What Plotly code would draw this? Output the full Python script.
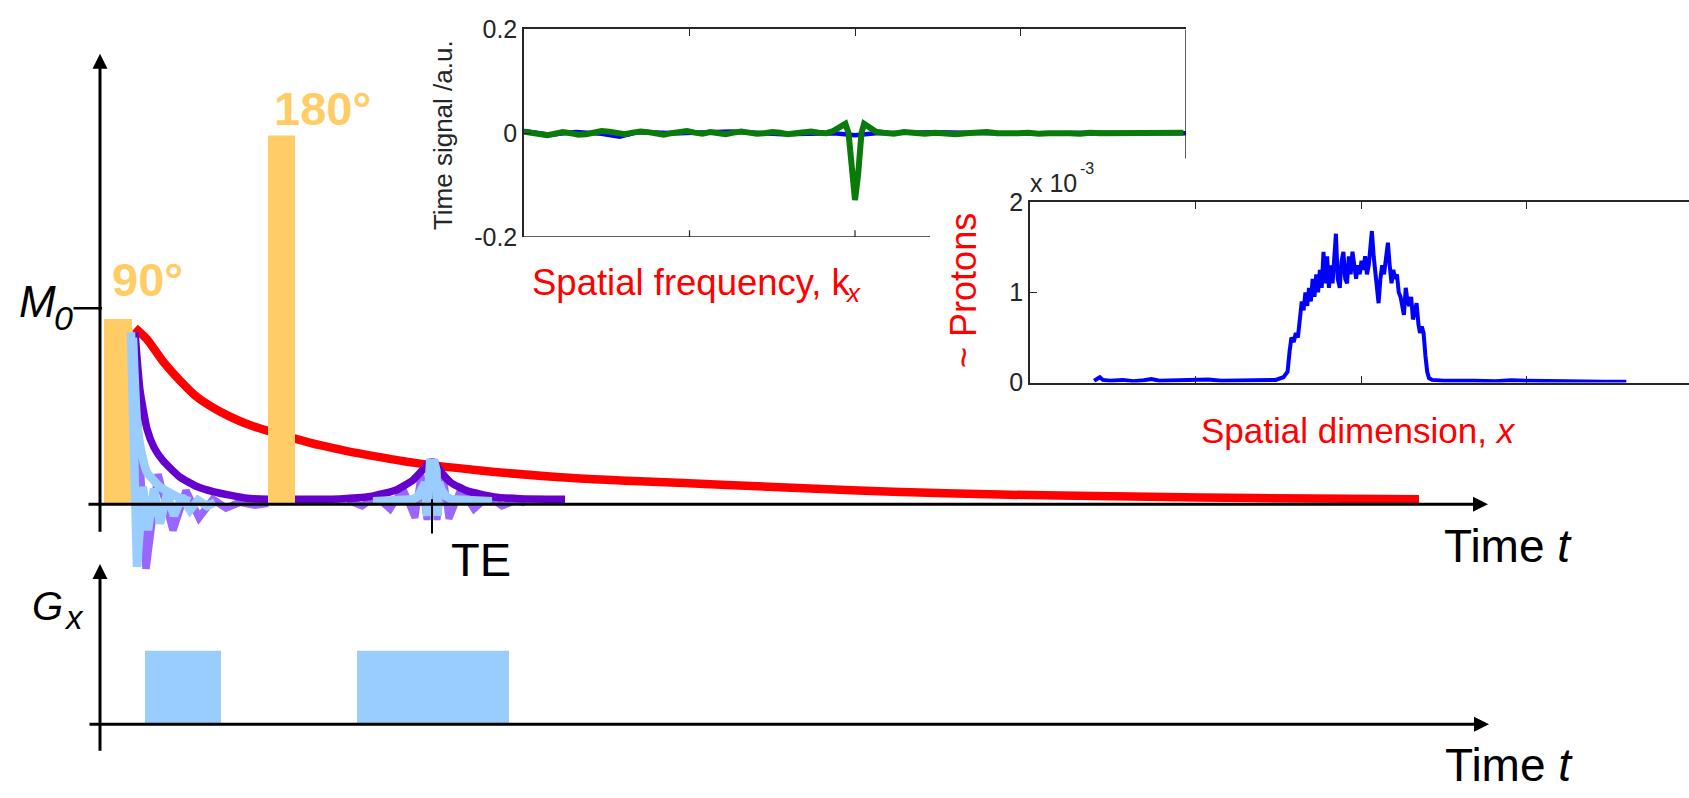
import plotly.graph_objects as go

W, H = 1689, 798
FONT = "Liberation Sans, Arial, Helvetica, sans-serif"
ORANGE = "#FFCC66"
RED = "#FF0000"
DPURPLE = "#6600CC"
LPURPLE = "#9966FF"
LBLUE = "#99CCFF"
DARK = "#262626"

# ---------------- main pulse-sequence panel (time a.u., signal in units of M0) -------------
t_axis_start, t_axis_end = -1.3, 138.8
m_axis_bottom, m_axis_top = -0.148, 2.30
M0 = 1.0
TE = 33.2

rf_labels = ["90°", "180°"]
rf_start = [0.4, 16.8]
rf_end = [3.2, 19.5]
rf_height = [0.946, 1.882]

# T2 decay (red)
t2_t = [3.5, 4.7, 6.3, 8.0, 9.7, 11.3, 13.0, 14.7, 16.8, 19.5, 22.0, 24.7, 28.0, 31.3, 38.0, 46.0, 54.0, 62.7, 71.0, 79.3, 90.0, 96.0, 110.0, 121.0, 131.9]
t2_m = [0.90, 0.842, 0.729, 0.631, 0.547, 0.493, 0.447, 0.409, 0.374, 0.335, 0.301, 0.271, 0.240, 0.212, 0.172, 0.138, 0.117, 0.0985, 0.080, 0.064, 0.049, 0.044, 0.034, 0.029, 0.025]

# T2* envelope: FID and spin echo (dark purple)
env_t = [3.5, 4.0, 4.7, 5.4, 6.3, 8.0, 9.7, 11.3, 14.7, 16.8, 19.5, 24.0, 27.0, 29.7, 31.3, 32.3, 32.9, 33.2, 33.5, 34.1, 35.1, 36.7, 39.4, 42.0, 46.5]
env_m = [0.877, 0.581, 0.384, 0.290, 0.222, 0.138, 0.090, 0.064, 0.030, 0.025, 0.025, 0.027, 0.039, 0.074, 0.123, 0.177, 0.212, 0.217, 0.212, 0.165, 0.110, 0.068, 0.037, 0.028, 0.025]

# oscillating signal 1 (light purple)
lp_fid_t = [3.3, 4.0, 4.6, 5.8, 7.3, 8.6, 9.9, 11.3, 12.6, 14.0, 15.5, 16.8]
lp_fid_m = [0.86, 0.19, -0.330, 0.153, -0.133, 0.069, -0.069, 0.025, -0.020, 0.010, -0.005, 0.005]
lp_echo_t = [24.8, 26.2, 27.6, 29.0, 30.3, 31.5, 32.1, 32.7, 33.2, 33.7, 34.3, 34.9, 36.1, 37.4, 38.8, 40.2, 41.6, 42.5]
lp_echo_m = [0.02, -0.010, 0.04, -0.025, 0.08, -0.069, 0.15, -0.08, 0.21, -0.08, 0.15, -0.074, 0.08, -0.025, 0.04, -0.010, 0.02, 0.005]

# oscillating signal 2 (light blue)
lb_fid_t = [3.1, 3.7, 4.3, 4.8, 5.4, 6.0, 6.7, 7.4, 8.2, 9.0, 9.8, 10.7, 11.5]
lb_fid_m = [0.877, -0.320, 0.089, -0.133, 0.079, -0.099, 0.054, -0.059, 0.039, -0.030, 0.020, -0.010, 0.010]
lb_env_t = [3.3, 3.7, 4.2, 4.7, 6.0, 7.7, 9.0]
lb_env_m = [0.85, 0.419, 0.251, 0.163, 0.089, 0.039, 0.015]
lb_echo_t = [27.3, 31.3, 31.8, 32.2, 32.5, 32.7, 32.8, 33.0, 33.45, 33.65, 33.75, 33.9, 34.2, 34.6, 35.15, 39.2]
lb_echo_m = [0.015, 0.025, 0.04, 0.07, 0.11, -0.06, 0.17, 0.212, 0.212, 0.17, -0.06, 0.11, 0.07, 0.04, 0.025, 0.015]

# ---------------- readout gradient panel ----------------
gx_axis_bottom, gx_axis_top = -0.382, 2.184
gx_start = [4.5, 25.7]
gx_end = [12.1, 40.9]
gx_height = [1.0, 1.0]

# ---------------- inset 1: time signal vs spatial frequency ----------------
k_ticks = [64, 128, 192]
sig_ticks = [-0.2, 0, 0.2]
sig_ticktext = ["-0.2", "0", "0.2"]
k_green = (list(range(0, 118, 3))
           + [119.5, 121, 123, 124.3, 125.5, 126.8, 128, 129.2, 130.5, 131.5, 132.8, 134.5, 136]
           + list(range(139, 256, 4)))
sig_green = ([0.003, 0.001, -0.002, -0.004, -0.001, 0.002, 0.000, -0.003, -0.002, 0.001,
              0.004, 0.003, 0.000, -0.002, 0.001, 0.003, 0.002, -0.001, -0.003, 0.000,
              0.002, 0.004, 0.001, -0.001, 0.002, 0.000, -0.002, 0.001, 0.003, 0.001,
              -0.001, 0.000, 0.002, 0.001, -0.002, 0.000, 0.001, 0.003, 0.001, 0.000]
             + [0.004, 0.008, 0.014, 0.018, 0.000, -0.080, -0.129, -0.080, 0.000, 0.018, 0.014, 0.006, 0.003]
             + [0.001, -0.001, 0.002, 0.000, -0.001, 0.001, 0.000, -0.002, 0.000, 0.001,
                0.002, 0.000, -0.001, 0.000, 0.001, -0.001, 0.000, 0.001, 0.000, -0.001,
                0.001, 0.000, 0.000, 0.001, -0.001, 0.000, 0.001, 0.000, 0.000, 0.001])
k_blue = [0, 10, 20, 30, 37, 44, 60, 80, 100, 120, 128, 136, 160, 190, 220, 256]
sig_blue = [0.004, -0.003, 0.002, -0.001, -0.007, 0.002, 0.000, 0.003, -0.002, 0.000, -0.004, 0.000, 0.002, -0.001, 0.001, 0.000]

# ---------------- inset 2: proton density vs spatial dimension (x 1e-3) ----------------
p_ticks = [0, 1, 2]
x_prof = [24.8, 26.0, 27.0, 28.2, 31, 36, 40, 44, 47, 50, 56, 62, 69, 74, 80, 86, 91, 95,
          98.0, 99.6, 100.4, 101.1, 102.0, 102.8, 103.6, 104.4, 105.1, 105.8, 106.5, 107.2, 107.9,
          108.6, 109.3, 110.0, 110.7, 111.4, 112.1, 112.8, 113.5, 114.2, 114.9, 115.6, 116.3, 117.0,
          117.7, 118.3, 119.0, 119.8, 120.5, 121.2, 121.9, 122.6, 123.3, 124.0, 124.7, 125.4, 126.1,
          126.8, 127.5, 128.2, 128.9, 129.6, 130.3, 131.0, 131.6, 132.2, 132.9, 133.5, 134.1, 134.8,
          135.5, 136.2, 136.9, 137.7, 138.4, 139.1, 139.8, 140.5, 141.2, 141.9, 142.6, 143.3, 144.0,
          144.6, 145.3, 146.0, 146.7, 147.4, 148.1, 148.8, 149.5, 150.2, 150.8, 151.5, 152.2, 152.9,
          153.6, 154.3, 155.5, 160, 166, 172, 180, 186, 192, 200, 207, 214, 222, 230.6]
p_prof = [0.02, 0.04, 0.06, 0.03, 0.02, 0.03, 0.015, 0.025, 0.04, 0.02, 0.025, 0.02, 0.035, 0.02, 0.02, 0.025, 0.02, 0.03,
          0.06, 0.12, 0.35, 0.50, 0.45, 0.55, 0.50, 0.75, 0.90, 0.80, 1.00, 0.85, 1.05,
          0.90, 1.15, 0.95, 1.20, 1.00, 1.25, 1.05, 1.45, 1.10, 1.40, 1.05, 1.30, 1.10,
          1.45, 1.65, 1.15, 1.05, 1.35, 1.45, 1.15, 1.10, 1.40, 1.20, 1.45, 1.25, 1.15,
          1.30, 1.20, 1.35, 1.25, 1.40, 1.20, 1.30, 1.55, 1.68, 1.40, 1.25, 1.10, 0.88,
          1.15, 1.30, 1.20, 1.35, 1.55, 1.30, 1.10, 1.25, 1.15, 1.20, 1.00, 0.95, 0.80,
          0.75, 1.05, 0.90, 0.85, 0.95, 0.70, 0.80, 0.88, 0.65, 0.55, 0.62, 0.55, 0.30,
          0.12, 0.05, 0.03, 0.02, 0.025, 0.02, 0.015, 0.025, 0.02, 0.015, 0.02, 0.015, 0.01, 0.01]


def px(v):
    return v / W


def py(v):
    return 1 - v / H


def rect(x0, x1, h):
    return [x0, x1, x1, x0, x0], [0, 0, h, h, 0]


fig = go.Figure()

# main panel traces (order = layering)
fig.add_trace(go.Scatter(x=t2_t, y=t2_m, mode="lines", line=dict(color=RED, width=8.5, shape="spline", smoothing=0.6),
                         xaxis="x", yaxis="y"))
fig.add_trace(go.Scatter(x=lp_fid_t, y=lp_fid_m, mode="lines", line=dict(color=LPURPLE, width=7.5),
                         xaxis="x", yaxis="y"))
fig.add_trace(go.Scatter(x=lp_echo_t, y=lp_echo_m, mode="lines", line=dict(color=LPURPLE, width=7),
                         xaxis="x", yaxis="y"))
fig.add_trace(go.Scatter(x=env_t, y=env_m, mode="lines", line=dict(color=DPURPLE, width=7.5, shape="spline", smoothing=0.5),
                         xaxis="x", yaxis="y"))
for s, e, h in zip(rf_start, rf_end, rf_height):
    xs, ys = rect(s, e, h)
    fig.add_trace(go.Scatter(x=xs, y=ys, mode="lines", fill="toself", fillcolor=ORANGE,
                             line=dict(width=0, color=ORANGE), xaxis="x", yaxis="y"))
fig.add_trace(go.Scatter(x=lb_env_t, y=lb_env_m, mode="lines", line=dict(color=LBLUE, width=8.5, shape="spline", smoothing=0.5),
                         xaxis="x", yaxis="y"))
fig.add_trace(go.Scatter(x=lb_fid_t, y=lb_fid_m, mode="lines", line=dict(color=LBLUE, width=8.5),
                         xaxis="x", yaxis="y"))
fig.add_trace(go.Scatter(x=lb_echo_t, y=lb_echo_m, mode="lines", line=dict(color=LBLUE, width=8.5),
                         xaxis="x", yaxis="y"))

# gradient blocks
for s, e, h in zip(gx_start, gx_end, gx_height):
    xs, ys = rect(s, e, h)
    fig.add_trace(go.Scatter(x=xs, y=ys, mode="lines", fill="toself", fillcolor=LBLUE,
                             line=dict(width=0, color=LBLUE), xaxis="x", yaxis="y2"))

# inset 1
fig.add_trace(go.Scatter(x=k_blue, y=sig_blue, mode="lines", line=dict(color="#0000FF", width=4.5),
                         xaxis="x2", yaxis="y3"))
fig.add_trace(go.Scatter(x=k_green, y=sig_green, mode="lines", line=dict(color="#0A7A0A", width=6),
                         xaxis="x2", yaxis="y3"))

# inset 2
fig.add_trace(go.Scatter(x=x_prof, y=p_prof, mode="lines", line=dict(color="#0000FF", width=4),
                         xaxis="x3", yaxis="y4"))

hidden = dict(visible=False, showgrid=False, zeroline=False)
ins_common = dict(showgrid=False, zeroline=False, showline=True, linecolor=DARK, linewidth=1.5,
                  ticks="inside", ticklen=7, tickwidth=1.2, tickcolor=DARK,
                  tickfont=dict(family=FONT, size=25, color=DARK))

x_in1 = [524, 1186]
y_in1 = [231, 16]
x_in2 = [1030, 1692]
y_in2 = [382, 195]
k_span = 256
k_max2 = k_span * (W - x_in2[0]) / (x_in2[1] - x_in2[0])

fig.update_layout(
    width=W, height=H, margin=dict(l=0, r=0, t=0, b=0),
    paper_bgcolor="white", plot_bgcolor="rgba(0,0,0,0)", showlegend=False,
    font=dict(family=FONT, color="black"),
    xaxis=dict(domain=[0, 1], range=[-10, 158.9], anchor="y", **hidden),
    yaxis=dict(domain=[0, 1], range=[-1.4286, 2.5025], anchor="x", **hidden),
    yaxis2=dict(domain=[0, 1], range=[-0.8158, 9.684], anchor="x", overlaying="y", **hidden),
    xaxis2=dict(domain=[px(x_in1[0]), px(x_in1[1])], range=[0, k_span], anchor="y3", side="top",
                mirror=False, tickvals=k_ticks, showticklabels=False, **ins_common),
    yaxis3=dict(domain=[py(y_in1[0]), py(y_in1[1])], range=[-0.2, 0.2], anchor="x2",
                tickvals=sig_ticks, ticktext=sig_ticktext, mirror=False, **ins_common),
    xaxis3=dict(domain=[px(x_in2[0]), 1], range=[0, k_max2], anchor="y4", mirror="ticks",
                tickvals=k_ticks, showticklabels=False, **ins_common),
    yaxis4=dict(domain=[py(y_in2[0]), py(y_in2[1])], range=[0, 2], anchor="x3",
                tickvals=p_ticks, ticktext=[str(v) for v in p_ticks], mirror=False, **ins_common),
)

# partial frame of inset 1 (the rest is hidden behind inset 2)
k_cut = 157
sig_cut = -0.049
shapes = [
    dict(type="line", xref="x2", yref="y3", x0=0, x1=k_cut, y0=-0.2, y1=-0.2, line=dict(color=DARK, width=1.5)),
    dict(type="line", xref="x2", yref="y3", x0=k_span, x1=k_span, y0=0.2, y1=sig_cut, line=dict(color=DARK, width=1.5)),
]
for k in k_ticks:
    if k < k_cut:
        shapes.append(dict(type="line", xref="x2", yref="y3", x0=k, x1=k, y0=-0.2, y1=-0.187,
                           line=dict(color=DARK, width=1.2)))
fig.update_layout(shapes=shapes)

ann = []


def arrow(x, y, ax, ay, yref, head=2, width=3):
    ann.append(dict(x=x, y=y, ax=ax, ay=ay, xref="x", yref=yref, axref="x", ayref=yref, text="",
                    showarrow=True, arrowhead=head, arrowwidth=width, arrowsize=1, arrowcolor="black"))


arrow(t_axis_end, 0, t_axis_start, 0, "y")
arrow(0, m_axis_top, 0, m_axis_bottom, "y")
arrow(t_axis_end + 0.1, 0, t_axis_start + 0.1, 0, "y2")
arrow(0, gx_axis_top, 0, gx_axis_bottom, "y2")
arrow(0.2, M0, -2.8, M0, "y", head=0, width=2.5)
arrow(TE, 0.025, TE, -0.158, "y", head=0, width=2)


def label(text, x, y, size, color="black", xanchor="center", angle=0, bold=False):
    ann.append(dict(text=text, x=px(x), y=py(y), xref="paper", yref="paper", showarrow=False,
                    xanchor=xanchor, yanchor="middle", textangle=angle,
                    font=dict(family=FONT, size=size, color=color, weight="bold" if bold else "normal")))


label("<i>M</i>", 37, 297.5, 44)
label("<i>0</i>", 63.5, 314.8, 34)
label("<i>G</i>", 47.5, 613.5, 40)
label("<i>x</i>", 74, 625, 33)
label(rf_labels[0], 147, 275, 47, color=ORANGE, bold=True)
label(rf_labels[1], 322, 98, 47, color=ORANGE, bold=True)
label("TE", 481, 565, 47)
label("Time <i>t</i>", 1508, 551.5, 46)
label("Time <i>t</i>", 1509, 778, 46)
label("Spatial frequency, k", 530, 278.5, 36.5, color=RED, xanchor="left")
label("<i>x</i>", 853, 288.7, 26, color=RED)
label("~ Protons", 964, 287, 36, color=RED, angle=-90)
label("Spatial dimension, <i>x</i>", 1199, 432, 35, color=RED, xanchor="left")
label("Time signal /a.u.", 442.5, 125, 26, color=DARK, angle=-90)
label("x 10", 1028, 175.5, 25, color=DARK, xanchor="left")
label("-3", 1078, 160, 16, color=DARK, xanchor="left")

fig.update_layout(annotations=ann)

fig.write_html("out.html", config={"displayModeBar": False},
               post_script="document.body.style.margin='0';document.body.style.overflow='hidden';")
